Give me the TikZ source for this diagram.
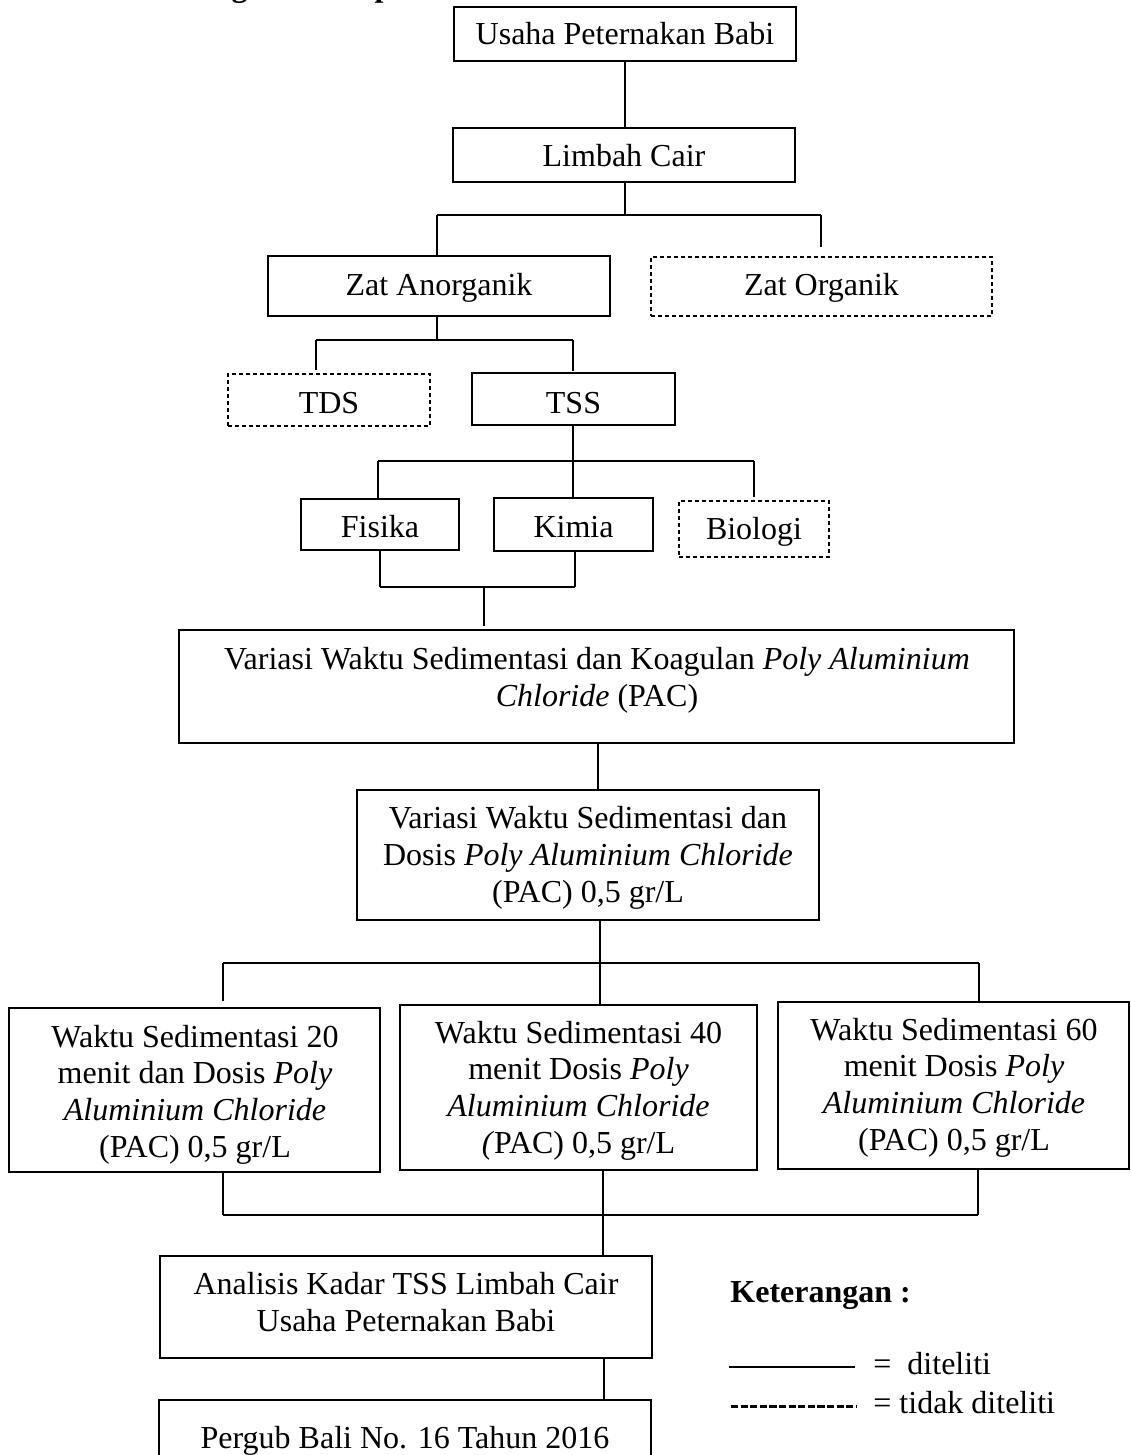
\documentclass[tikz,border=0pt]{standalone}
\usepackage{fontspec}
\setmainfont{Liberation Serif}
\usetikzlibrary{fit}
\begin{document}
\begin{tikzpicture}[x=0.5pt,y=-0.5pt,
  box/.style={draw, line width=0.8pt, inner sep=0pt},
  dbox/.style={box, dash pattern=on 2.2pt off 1.3pt},
  txt/.style={inner sep=0pt, align=center, anchor=base, font=\fontsize{16pt}{18.4pt}\selectfont},
  conn/.style={line width=0.65pt}]
\useasboundingbox (0,0) rectangle (1130,1455);
\fill[white] (0,0) rectangle (1130,1455);
% title (cut off at top)
\node[txt, anchor=base west, font=\fontsize{16pt}{18.4pt}\selectfont\bfseries] (title) at (144,-3.6) {Kerangka Konsep};
% boxes
\node[box, fit={(454,7) (796,61)}] (b1) {};
\node[box, fit={(453,128) (795,182)}] (b2) {};
\node[box, fit={(268,256) (610,316)}] (za) {};
\node[dbox, fit={(651,257) (992,316)}] (zo) {};
\node[dbox, fit={(228,374) (430,426)}] (tds) {};
\node[box, fit={(472,373) (675,425)}] (tss) {};
\node[box, fit={(301,499) (459,550)}] (fis) {};
\node[box, fit={(494,498) (653,551)}] (kim) {};
\node[dbox, fit={(679,501) (829,557)}] (bio) {};
\node[box, fit={(179,630) (1014,743)}] (big) {};
\node[box, fit={(357,790) (819,920)}] (dos) {};
\node[box, fit={(9,1008) (380,1172)}] (w20) {};
\node[box, fit={(400,1005) (757,1170)}] (w40) {};
\node[box, fit={(778,1002) (1129,1169)}] (w60) {};
\node[box, fit={(160,1256) (652,1358)}] (ana) {};
\node[box, fit={(159,1400) (651,1475)}] (per) {};
% texts (multi-line texts are placed by the baseline of their last line)
\node[txt] (b1t) at (625,45) {Usaha Peternakan Babi};
\node[txt] (b2t) at (624,167) {Limbah Cair};
\node[txt] (zat) at (439,295) {Zat Anorganik};
\node[txt] (zot) at (821.5,295) {Zat Organik};
\node[txt] (tdst) at (329,413) {TDS};
\node[txt] (tsst) at (573.5,413) {TSS};
\node[txt] (fist) at (380,537) {Fisika};
\node[txt] (kimt) at (573.5,537) {Kimia};
\node[txt] (biot) at (754,539) {Biologi};
\node[txt] (bigt) at (597,706) {Variasi Waktu Sedimentasi dan Koagulan \textit{Poly Aluminium}\\\textit{Chloride} (PAC)};
\node[txt] (dost) at (588,902) {Variasi Waktu Sedimentasi dan\\Dosis \textit{Poly Aluminium Chloride}\\(PAC) 0,5 gr/L};
\node[txt] (w20t) at (195,1157.4) {Waktu Sedimentasi 20\\menit dan Dosis \textit{Poly}\\\textit{Aluminium Chloride}\\(PAC) 0,5 gr/L};
\node[txt] (w40t) at (578.5,1153.4) {Waktu Sedimentasi 40\\menit Dosis \textit{Poly}\\\textit{Aluminium Chloride}\\\textit{(}PAC) 0,5 gr/L};
\node[txt] (w60t) at (954,1150.4) {Waktu Sedimentasi 60\\menit Dosis \textit{Poly}\\\textit{Aluminium Chloride}\\(PAC) 0,5 gr/L};
\node[txt] (anat) at (406,1331) {Analisis Kadar TSS Limbah Cair\\Usaha Peternakan Babi};
\node[txt] (pert) at (405,1448) {Pergub Bali No. 16 Tahun 2016};
% legend
\node[txt, anchor=base west, font=\fontsize{16pt}{18.4pt}\selectfont\bfseries] (ket) at (730,1302) {Keterangan :};
\coordinate (l1a) at (729,1367); \coordinate (l1b) at (855,1367);
\coordinate (l2a) at (731,1406); \coordinate (l2b) at (856,1406);
\draw[line width=0.8pt] (l1a) -- (l1b);
\draw[line width=1.5pt, dash pattern=on 3.6pt off 1.2pt] (l2a) -- (l2b);
\node[txt, anchor=base west] (leg1) at (873,1374) {=~~diteliti};
\node[txt, anchor=base west] (leg2) at (873,1413) {= tidak diteliti};
% junction coordinates
\coordinate (j1) at (625,215);
\coordinate (j1l) at (437,215); \coordinate (j1r) at (821,215);
\coordinate (zoin) at (821,247);
\coordinate (j2) at (437,340);
\coordinate (j2l) at (316,340); \coordinate (j2r) at (573,340);
\coordinate (tdsin) at (316,370); \coordinate (tssin) at (573,371);
\coordinate (j3l) at (378,461); \coordinate (j3r) at (754,461);
\coordinate (bioin) at (754,497);
\coordinate (j4l) at (380,587); \coordinate (j4r) at (575,587);
\coordinate (j4a) at (484,588); \coordinate (j4b) at (484,626);
\coordinate (j5l) at (223,963); \coordinate (j5r) at (979,963);
\coordinate (w20in) at (223,1001); \coordinate (w60in) at (979,1001);
\coordinate (j6l) at (223,1215); \coordinate (j6r) at (978,1215);
% connectors
\draw[conn] (b1.south -| j1) -- (b2.north -| j1);
\draw[conn] (b2.south -| j1) -- (j1);
\draw[conn] (j1l) -- (j1r);
\draw[conn] (j1l) -- (za.north -| j1l);
\draw[conn] (j1r) -- (zoin);
\draw[conn] (za.south -| j2) -- (j2);
\draw[conn] (j2l) -- (j2r);
\draw[conn] (j2l) -- (tdsin);
\draw[conn] (j2r) -- (tssin);
\draw[conn] (tss.south -| j2r) -- (kim.north -| j2r);
\draw[conn] (j3l) -- (j3r);
\draw[conn] (j3l) -- (fis.north -| j3l);
\draw[conn] (j3r) -- (bioin);
\draw[conn] (fis.south -| j4l) -- (j4l);
\draw[conn] (kim.south -| j4r) -- (j4r);
\draw[conn] (j4l) -- (j4r);
\draw[conn] (j4a) -- (j4b);
\draw[conn] (big.south -| 598,0) -- (dos.north -| 598,0);
\draw[conn] (dos.south -| 600,0) -- (w40.north -| 600,0);
\draw[conn] (j5l) -- (j5r);
\draw[conn] (j5l) -- (w20in);
\draw[conn] (j5r) -- (w60in);
\draw[conn] (w20.south -| j6l) -- (j6l);
\draw[conn] (w60.south -| j6r) -- (j6r);
\draw[conn] (j6l) -- (j6r);
\draw[conn] (w40.south -| 603,0) -- (ana.north -| 603,0);
\draw[conn] (ana.south -| 604,0) -- (per.north -| 604,0);
\end{tikzpicture}
\end{document}
